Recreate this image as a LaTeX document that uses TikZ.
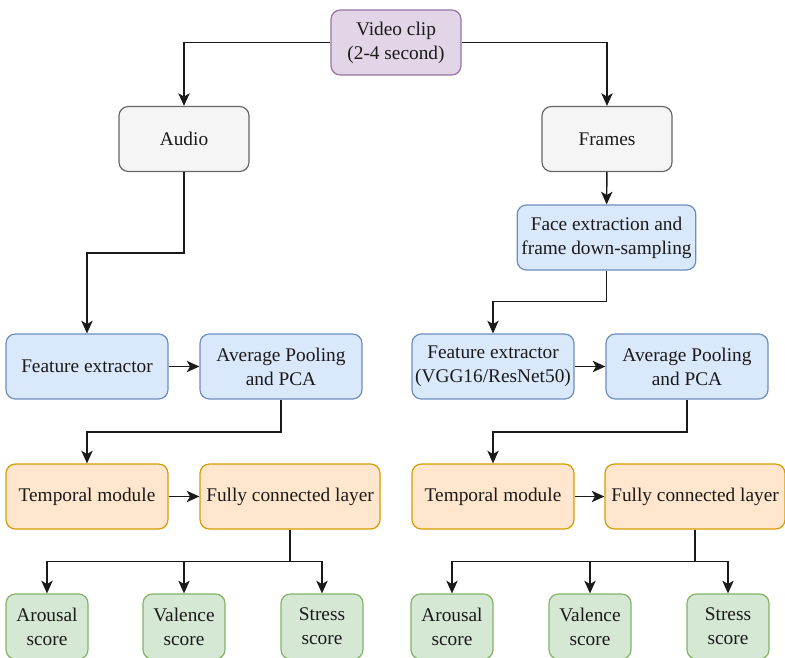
\documentclass[tikz,border=0pt]{standalone}
\usepackage{fontspec}
\setmainfont{Liberation Serif}
\usetikzlibrary{arrows.meta}

\definecolor{clipfill}{HTML}{E1D5E7}
\definecolor{clipdraw}{HTML}{9673A6}
\definecolor{grayfill}{HTML}{F5F5F5}
\definecolor{graydraw}{HTML}{666666}
\definecolor{bluefill}{HTML}{DAE8FC}
\definecolor{bluedraw}{HTML}{6C8EBF}
\definecolor{orangefill}{HTML}{FFE6CC}
\definecolor{orangedraw}{HTML}{D79B00}
\definecolor{greenfill}{HTML}{D5E8D4}
\definecolor{greendraw}{HTML}{82B366}
\definecolor{linecol}{HTML}{1A1A1A}

\tikzset{
    box/.style={draw, rounded corners=7pt, line width=0.9pt, align=center,
        minimum height=48.75pt, inner sep=1pt, text=linecol,
        font=\fontsize{14.5}{18}\selectfont},
    clipbox/.style={box, fill=clipfill, draw=clipdraw, minimum width=97.5pt},
    graybox/.style={box, fill=grayfill, draw=graydraw, minimum width=97.5pt},
    bluebox/.style={box, fill=bluefill, draw=bluedraw, minimum width=121.5pt},
    orangebox/.style={box, fill=orangefill, draw=orangedraw, minimum width=121.5pt},
    scorebox/.style={box, fill=greenfill, draw=greendraw, minimum width=61.5pt},
    arr/.style={-{Stealth[length=9.5pt,width=8.5pt,inset=2.5pt]}, line width=1.1pt, draw=linecol},
}

\begin{document}
\begin{tikzpicture}[x=0.75pt,y=-0.75pt]
        \useasboundingbox (0,0) rectangle (785,657);

        \node[clipbox] (clip) at (396,42.5) {Video clip\\(2-4 second)};
        \node[graybox] (audio) at (184,139) {Audio};
        \node[graybox] (frames) at (607,139) {Frames};
        \node[bluebox, minimum width=134pt] (face) at (606.5,237.5) {Face extraction and\\frame down-sampling};

        % audio branch
        \node[bluebox] (featA) at (87,366.5) {Feature extractor};
        \node[bluebox] (poolA) at (281,366.5) {Average Pooling\\and PCA};
        \node[orangebox] (tempA) at (87,496.5) {Temporal module};
        \node[orangebox, minimum width=135pt] (fcA) at (290,496.5) {Fully connected layer};

        % frames branch
        \node[bluebox] (featF) at (493,366.5) {Feature extractor\\(VGG16/ResNet50)};
        \node[bluebox] (poolF) at (687,366.5) {Average Pooling\\and PCA};
        \node[orangebox] (tempF) at (493,496.5) {Temporal module};
        \node[orangebox, minimum width=135pt] (fcF) at (695,496.5) {Fully connected layer};

        \foreach \side/\a/\v/\s in {A/47/184/322, F/452/590/728}{
            \node[scorebox] (arousal\side) at (\a,626.5) {Arousal\\score};
            \node[scorebox] (valence\side) at (\v,626.5) {Valence\\score};
            \node[scorebox] (stress\side) at (\s,626.5) {Stress\\score};
            \draw[arr] (fc\side.south) -- ++(0,32) -| (arousal\side.north);
            \draw[arr] (fc\side.south) -- ++(0,32) -| (valence\side.north);
            \draw[arr] (fc\side.south) -- ++(0,32) -| (stress\side.north);
            \draw[arr] (feat\side) -- (pool\side);
            \draw[arr] (temp\side) -- (fc\side);
            \draw[arr] (pool\side.south) -- ++(0,32.5) -| (temp\side.north);
        }

        \draw[arr] (clip.west) -| (audio.north);
        \draw[arr] (clip.east) -| (frames.north);
        \draw[arr] (audio.south) -- ++(0,81) -| (featA.north);
        \draw[arr] (frames) -- (face);
        \draw[arr] (face.south) -- ++(0,31) -| (featF.north);
    \end{tikzpicture}
\end{document}
